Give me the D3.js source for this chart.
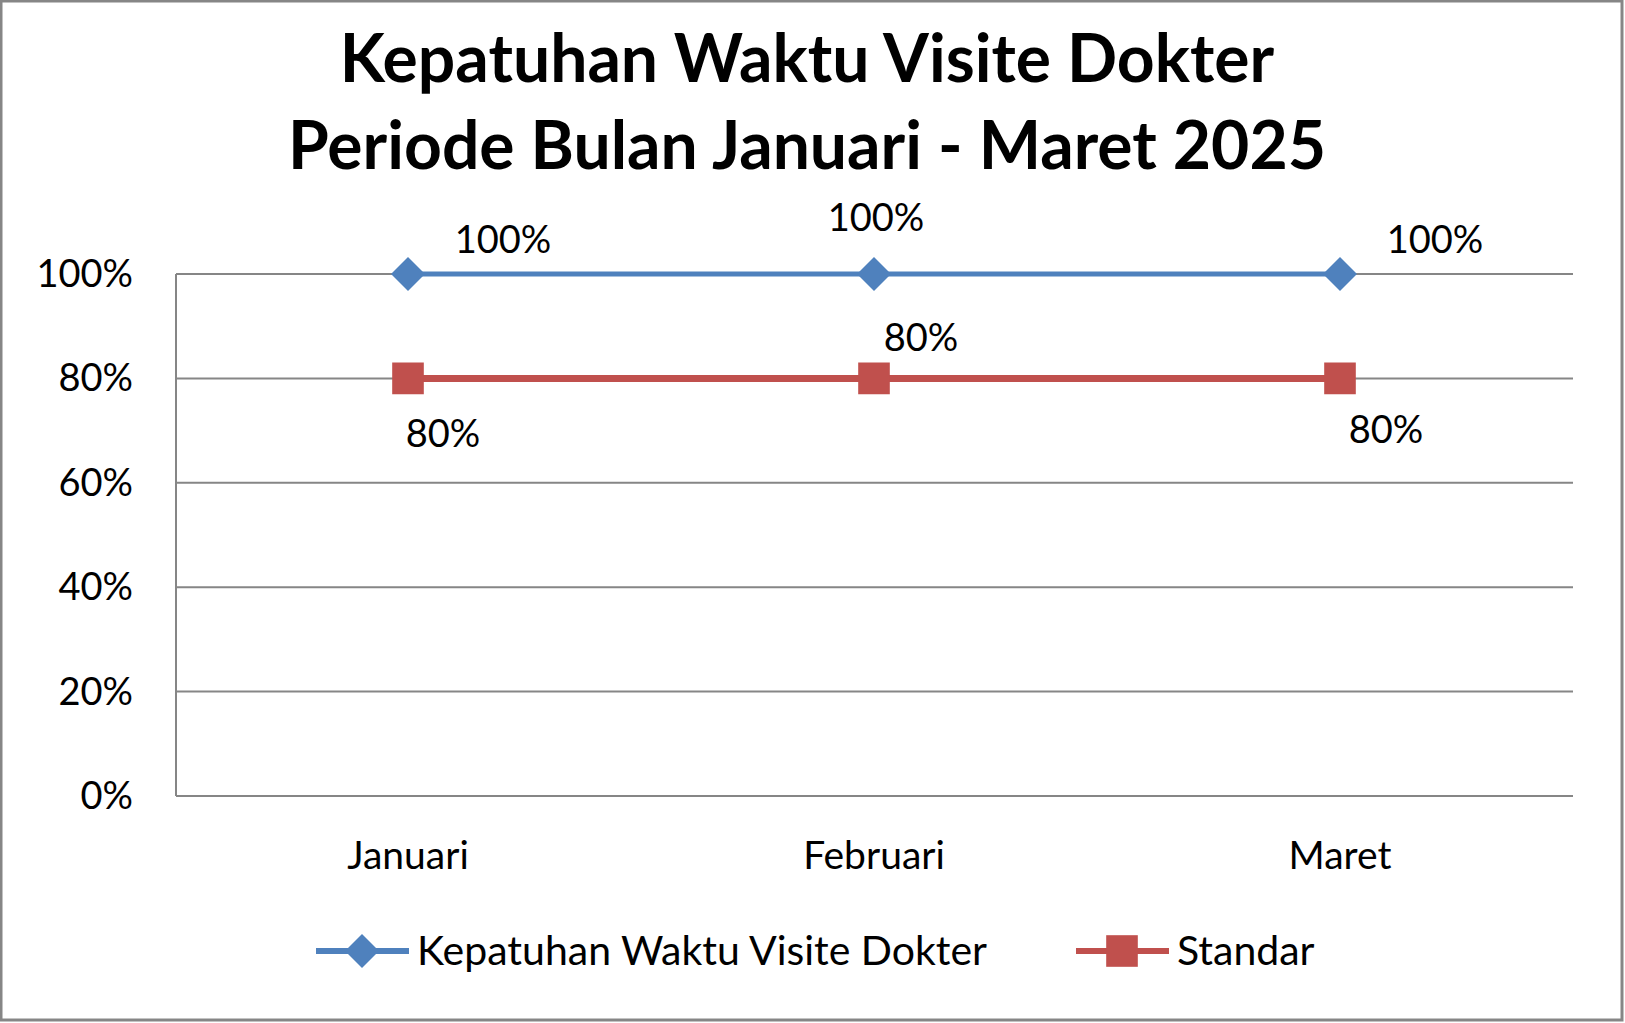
<!DOCTYPE html><html><head><meta charset="utf-8"><script src="https://cdn.jsdelivr.net/npm/d3@7"></script>
<style>body{margin:0;background:#fff}svg{display:block;font-family:Lato,"Open Sans",sans-serif}</style></head><body><svg id="c" width="1625" height="1023"></svg>
<script>
const categories=["Januari","Februari","Maret"];
const kepatuhan=[1,1,1];
const standar=[0.8,0.8,0.8];
const yTicks=[0,0.2,0.4,0.6,0.8,1];
const kepLabelOffsets=[[95,-34],[2,-56],[95,-34]];
const stdLabelOffsets=[[35,56],[47,-40],[46,52]];
const svg=d3.select("#c");
svg.append("rect").attr("x",1).attr("y",1).attr("width",1621).attr("height",1019).attr("fill","#fff").attr("stroke","#868686").attr("stroke-width",3);
const x=d3.scalePoint().domain(categories).range([408,1340]);
const y=d3.scaleLinear().domain([0,1]).range([796,274]);
const L=176,R=1573;
svg.selectAll(".g").data(yTicks).join("line").attr("x1",L).attr("x2",R).attr("y1",d=>y(d)).attr("y2",d=>y(d)).attr("stroke","#868686").attr("stroke-width",2);
svg.append("line").attr("x1",L).attr("x2",L).attr("y1",y(1)).attr("y2",y(0)).attr("stroke","#868686").attr("stroke-width",2);
svg.selectAll(".yt").data(yTicks).join("text").attr("x",133).attr("y",d=>y(d)+13).attr("text-anchor","end").attr("font-size",38).text(d3.format(".0%"));
svg.selectAll(".xt").data(categories).join("text").attr("x",d=>x(d)).attr("y",869).attr("text-anchor","middle").attr("font-size",39).text(d=>d);
svg.append("text").attr("x",807).attr("y",82).attr("text-anchor","middle").attr("font-size",66).attr("font-weight","bold").text("Kepatuhan Waktu Visite Dokter");
svg.append("text").attr("x",807).attr("y",169).attr("text-anchor","middle").attr("font-size",66).attr("font-weight","bold").text("Periode Bulan Januari - Maret 2025");
const line=d3.line().x((d,i)=>x(categories[i])).y(d=>y(d));
svg.append("path").attr("d",line(standar)).attr("fill","none").attr("stroke","#C0504D").attr("stroke-width",7);
svg.append("path").attr("d",line(kepatuhan)).attr("fill","none").attr("stroke","#4F81BD").attr("stroke-width",5);
const sq=d3.symbol().type(d3.symbolSquare).size(1000);
const dm="M0,-17L17,0L0,17L-17,0Z";
svg.selectAll(".s").data(standar).join("path").attr("d",sq).attr("transform",(d,i)=>`translate(${x(categories[i])},${y(d)})`).attr("fill","#C0504D");
svg.selectAll(".k").data(kepatuhan).join("path").attr("d",dm).attr("transform",(d,i)=>`translate(${x(categories[i])},${y(d)})`).attr("fill","#4F81BD");
svg.selectAll(".kl").data(kepatuhan).join("text").attr("x",(d,i)=>x(categories[i])+kepLabelOffsets[i][0]).attr("y",(d,i)=>y(d)+kepLabelOffsets[i][1]+13).attr("text-anchor","middle").attr("font-size",38).text(d3.format(".0%"));
svg.selectAll(".sl").data(standar).join("text").attr("x",(d,i)=>x(categories[i])+stdLabelOffsets[i][0]).attr("y",(d,i)=>y(d)+stdLabelOffsets[i][1]+13).attr("text-anchor","middle").attr("font-size",38).text(d3.format(".0%"));
const lg=[{n:"Kepatuhan Waktu Visite Dokter",c:"#4F81BD",s:dm,x:316},{n:"Standar",c:"#C0504D",s:sq(),x:1076}];
lg.forEach(l=>{svg.append("line").attr("x1",l.x).attr("x2",l.x+93).attr("y1",951).attr("y2",951).attr("stroke",l.c).attr("stroke-width",6);
svg.append("path").attr("d",l.s).attr("transform",`translate(${l.x+46},951)`).attr("fill",l.c);
svg.append("text").attr("x",l.x+101).attr("y",965).attr("font-size",41).text(l.n);});
</script></body></html>
